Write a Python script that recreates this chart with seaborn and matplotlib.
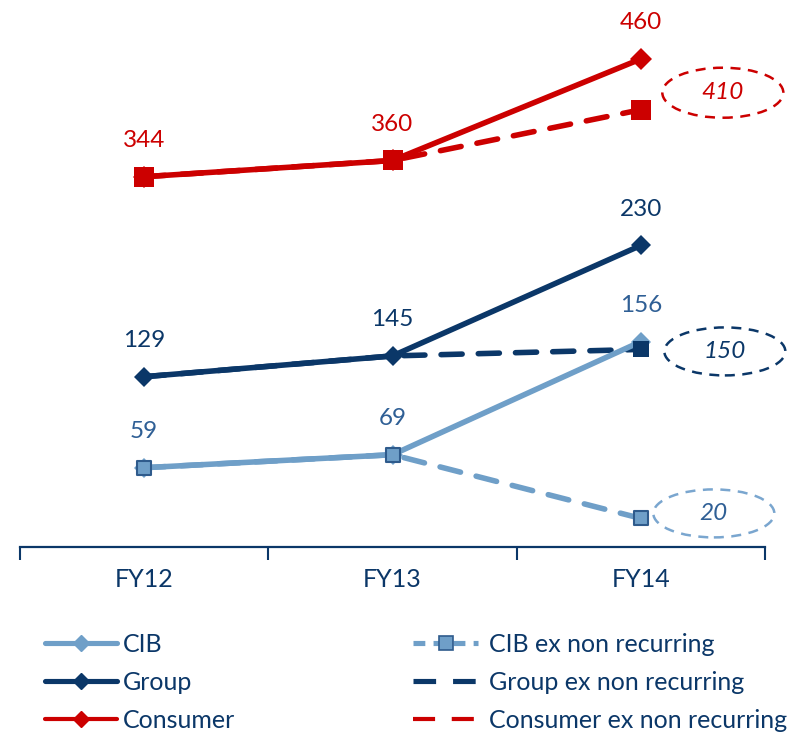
import numpy as np
import pandas as pd
import matplotlib
matplotlib.use("Agg")
import matplotlib.pyplot as plt
import matplotlib.transforms as mtransforms
from matplotlib.patches import Ellipse
from matplotlib.lines import Line2D
import seaborn as sns

# ---------------- data ----------------
years = ["FY12", "FY13", "FY14"]
cib = [59, 69, 156]
cib_ex = [59, 69, 20]
group = [129, 145, 230]
group_ex = [129, 145, 150]
consumer = [344, 360, 460]
consumer_ex = [344, 360, 410]
legend_left = ["CIB", "Group", "Consumer"]
legend_right = ["CIB ex non recurring", "Group ex non recurring", "Consumer ex non recurring"]

# ---------------- style ----------------
LIGHT = "#6f9fc8"
NAVY = "#0b3768"
RED = "#cc0000"
MID = "#2f5f95"
SQEDGE = "#2f5b8c"

sns.set_style("white")
plt.rcParams['font.family'] = ['Lato', 'DejaVu Sans']

fig = plt.figure(figsize=(8.08, 7.37), dpi=100)
ax = fig.add_axes([20 / 808, 190 / 737, 745 / 808, 547 / 737])
ax2 = ax.twinx()

x = np.arange(len(years))
LW = 4.0
DASH = (0, (3.8, 2.9))
dkw = dict(dash_capstyle="round")

# ---- primary axis: CIB & Group ----
sns.lineplot(x=x, y=cib_ex, ax=ax, color=LIGHT, lw=LW, linestyle=DASH, errorbar=None, zorder=2, **dkw)
sns.lineplot(x=x, y=group_ex, ax=ax, color=NAVY, lw=LW, linestyle=DASH, errorbar=None, zorder=2, **dkw)
sns.lineplot(x=x, y=cib, ax=ax, color=LIGHT, lw=LW, marker="D", ms=10.5, mec=LIGHT, mew=0,
             errorbar=None, zorder=3)
sns.lineplot(x=x, y=group, ax=ax, color=NAVY, lw=LW, marker="D", ms=10.5, mec=NAVY, mew=0,
             errorbar=None, zorder=3)
sns.scatterplot(x=x, y=cib_ex, ax=ax, marker="s", s=95, color=LIGHT, edgecolor=SQEDGE,
                linewidth=1.5, zorder=4)
sns.scatterplot(x=x[2:], y=group_ex[2:], ax=ax, marker="s", s=120, color=NAVY, edgecolor=NAVY,
                linewidth=0, zorder=4)

# ---- secondary axis: Consumer ----
sns.lineplot(x=x, y=consumer_ex, ax=ax2, color=RED, lw=LW, linestyle=DASH, errorbar=None, zorder=2, **dkw)
sns.lineplot(x=x, y=consumer, ax=ax2, color=RED, lw=LW, marker="D", ms=11.5, mec=RED, mew=0,
             errorbar=None, zorder=3)
sns.scatterplot(x=x, y=consumer_ex, ax=ax2, marker="s", s=200, color=RED, edgecolor=RED,
                linewidth=0, zorder=4)

ax.set_ylim(-2.0, 418.8)
ax2.set_ylim(-20.8, 518.1)
ax.set_xlim(-0.5, 2.5)

# ---- value labels ----
for vals, a, col in [(cib, ax, MID), (group, ax, NAVY), (consumer, ax2, RED)]:
    for xi, v in zip(x, vals):
        a.annotate(str(v), (xi, v), xytext=(0, 26), textcoords="offset points",
                   ha="center", va="center", fontsize=17.5, color=col, zorder=6)

# ---- ellipse call-outs for ex non recurring FY14 ----
callouts = [
    (ax2, consumer_ex[2], RED, RED, 82, 17, 50 / 1.015),
    (ax, group_ex[2], NAVY, NAVY, 84, -2, 48 / 1.30),
    (ax, cib_ex[2], MID, "#7aa6cf", 73, 5, 48 / 1.30),
]
for a, v, tcol, ecol, dx, dy, h in callouts:
    tr = mtransforms.offset_copy(a.transData, fig=fig, x=dx, y=dy, units="dots")
    e = Ellipse((x[2], v), width=121 / 248.3, height=h, transform=tr, fill=False,
                edgecolor=ecol, lw=1.8, linestyle=(0, (4, 3)), zorder=5, clip_on=False)
    a.add_patch(e)
    a.annotate(str(v), (x[2], v), xytext=(dx * 0.72, dy * 0.72), textcoords="offset points",
               ha="center", va="center", fontsize=17.5, style="italic", color=tcol, zorder=6)

# ---- axes styling ----
ax.set_xticks(x, years)
ax.set_xticks([-0.5, 0.5, 1.5, 2.5], minor=True)
ax.tick_params(axis="x", which="major", bottom=True, length=0, pad=15, labelsize=18, labelcolor=NAVY)
ax.tick_params(axis="x", which="minor", bottom=True, length=9, width=1.5, color=NAVY, direction="out")
ax.set_yticks([])
ax2.set_yticks([])
for s in ["top", "left", "right"]:
    ax.spines[s].set_visible(False)
    ax2.spines[s].set_visible(False)
ax2.spines["bottom"].set_visible(False)
ax.spines["bottom"].set_color(NAVY)
ax.spines["bottom"].set_linewidth(1.6)
ax.set_xlabel("")
ax.set_ylabel("")
ax2.set_ylabel("")
for a in (ax, ax2):
    if a.get_legend():
        a.get_legend().remove()

# ---- legends ----
LEG_FS = 18
h_left = [
    Line2D([], [], color=LIGHT, lw=3.7, marker="D", ms=8, mec=LIGHT),
    Line2D([], [], color=NAVY, lw=3.7, marker="D", ms=8, mec=NAVY),
    Line2D([], [], color=RED, lw=3.0, marker="D", ms=8, mec=RED),
]
h_right = [
    Line2D([], [], color=LIGHT, lw=3.7, linestyle=(0, (2.3, 1.6)), marker="s", ms=10,
           mfc=LIGHT, mec=SQEDGE, mew=1.2),
    Line2D([], [], color=NAVY, lw=3.7, linestyle=(0, (4.4, 3.3))),
    Line2D([], [], color=RED, lw=3.0, linestyle=(0, (5.3, 4.0))),
]
common = dict(loc="upper left", frameon=False, fontsize=LEG_FS, labelcolor=NAVY,
              borderaxespad=0, borderpad=0, labelspacing=0.6)
fig.legend(h_left, legend_left, bbox_to_anchor=(45 / 808, 0.141),
           handlelength=2.9, handletextpad=0.2, **common)
fig.legend(h_right, legend_right, bbox_to_anchor=(413 / 808, 0.141),
           handlelength=2.6, handletextpad=0.45, **common)

fig.savefig("out.png", dpi=100)
